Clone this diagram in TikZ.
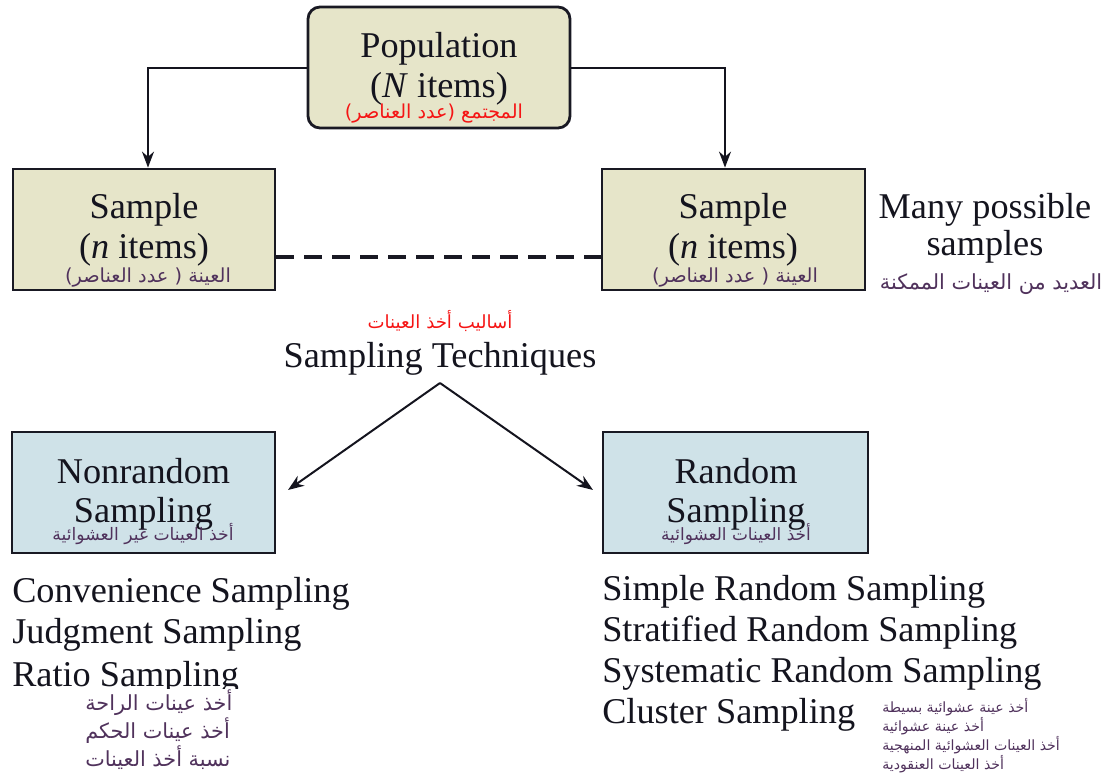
\documentclass[tikz,border=0pt]{standalone}
\usepackage{fontspec}
\setmainfont{Liberation Serif}
\newfontfamily\arabicfont[Script=Arabic]{DejaVu Sans}
\TeXXeTstate=1
\usetikzlibrary{arrows.meta,calc}

\definecolor{ink}{RGB}{20,20,30}
\definecolor{edge}{RGB}{25,25,35}
\definecolor{khaki}{RGB}{230,229,201}
\definecolor{paleblue}{RGB}{207,226,232}
\definecolor{arpurple}{RGB}{80,50,92}
\definecolor{arred}{RGB}{245,20,20}

\newcommand{\ar}[1]{\arabicfont\beginR #1\endR}

\begin{document}
\begin{tikzpicture}[x=0.75pt,y=-0.75pt,
  en/.style={font=\fontsize{27.2}{30}\selectfont, text=ink, inner sep=0pt, anchor=base},
  enl/.style={en, anchor=base west},
  arlab/.style={inner sep=0pt, anchor=base, text=arpurple},
  arsize/.style={font=\fontsize{#1}{#1}\selectfont},
  box/.style={draw=edge, line width=2.1pt, inner sep=0pt},
  khakibox/.style={box, fill=khaki},
  bluebox/.style={box, fill=paleblue},
  link/.style={draw=ink, line width=1.5pt, -{Stealth[length=12pt,width=9pt]}},
]
\useasboundingbox (0,0) rectangle (1110,782);

% --- population and samples ---
\node[khakibox, rounded corners=9pt, minimum width={262*0.75pt}, minimum height={121*0.75pt}] (pop) at (439,67.5) {};
\node[khakibox, minimum width={262*0.75pt}, minimum height={121*0.75pt}] (ls) at (144,229.5) {};
\node[khakibox, minimum width={263*0.75pt}, minimum height={121*0.75pt}] (rs) at (733.5,229.5) {};

\node[en] (popA) at (439,57) {Population};
\node[en] (popB) at (439,97) {(\textit{N} items)};
\node[arlab, text=arred, arsize=14.4] (popC) at (434,118) {\ar{المجتمع (عدد العناصر)}};

\node[en] (lsA) at (144,218) {Sample};
\node[en] (lsB) at (144,258) {(\textit{n} items)};
\node[arlab, arsize=14.5] (lsC) at (148,282) {\ar{العينة ( عدد العناصر)}};

\node[en] (rsA) at (733,218) {Sample};
\node[en] (rsB) at (733,258) {(\textit{n} items)};
\node[arlab, arsize=14.5] (rsC) at (735,282) {\ar{العينة ( عدد العناصر)}};

\node[en] (manyA) at (985,218) {Many possible};
\node[en] (manyB) at (985,255) {samples};
\node[arlab, arsize=15.6] (manyC) at (991,289) {\ar{العديد من العينات الممكنة}};

\draw[link] (pop.west) -| ($(ls.north)+(4,0)$);
\draw[link] (pop.east) -| ($(rs.north)+(-8.5,0)$);
\draw[edge, line width=3pt, dash pattern=on 13.5pt off 7.5pt]
  ($(ls.east)+(0,27.5)$) -- ($(rs.west)+(0,27.5)$);

% --- sampling techniques ---
\node[arlab, text=arred, arsize=13.6] (techA) at (440,328) {\ar{أساليب أخذ العينات}};
\node[en] (techB) at (440,367) {Sampling Techniques};

\coordinate (apex) at (440,383);
\coordinate (nrtip) at (288,490);
\coordinate (rtip) at (593,490);
\draw[link] (apex) -- (nrtip);
\draw[link] (apex) -- (rtip);

\node[bluebox, minimum width={263*0.75pt}, minimum height={121*0.75pt}] (nr) at (143.5,492.5) {};
\node[bluebox, minimum width={265*0.75pt}, minimum height={121*0.75pt}] (rd) at (735.5,492.5) {};

\node[en] (nrA) at (143.5,483) {Nonrandom};
\node[en] (nrB) at (143.5,522) {Sampling};
\node[arlab, arsize=12.9] (nrC) at (143,540) {\ar{أخذ العينات غير العشوائية}};

\node[en] (rdA) at (736,483) {Random};
\node[en] (rdB) at (736,522) {Sampling};
\node[arlab, arsize=12.7] (rdC) at (736,540) {\ar{أخذ العينات العشوائية}};

% --- nonrandom methods ---
\node[enl] (conv) at (12,602) {Convenience Sampling};
\node[enl] (judg) at (12,643) {Judgment Sampling};
\begin{scope}
  \clip (0,600) rectangle (400,688);
  \node[enl] (ratio) at (12,686) {Ratio Sampling};
\end{scope}
\node[arlab, anchor=base west, arsize=15.6] (convA) at (85,710) {\ar{أخذ عينات الراحة}};
\node[arlab, anchor=base west, arsize=15.6] (judgA) at (85,738) {\ar{أخذ عينات الحكم}};
\node[arlab, anchor=base west, arsize=15.6] (ratioA) at (85,766) {\ar{نسبة أخذ العينات}};

% --- random methods ---
\node[enl] (simp) at (602,600) {Simple Random Sampling};
\node[enl] (strat) at (602,641) {Stratified Random Sampling};
\node[enl] (syst) at (602,682) {Systematic Random Sampling};
\node[enl] (clus) at (602,723) {Cluster Sampling};
\node[arlab, anchor=base west, arsize=10.6] (simpA) at (882,712) {\ar{أخذ عينة عشوائية بسيطة}};
\node[arlab, anchor=base west, arsize=10.6] (stratA) at (882,731) {\ar{أخذ عينة عشوائية}};
\node[arlab, anchor=base west, arsize=10.6] (systA) at (882,750) {\ar{أخذ العينات العشوائية المنهجية}};
\node[arlab, anchor=base west, arsize=10.6] (clusA) at (882,769) {\ar{أخذ العينات العنقودية}};
\end{tikzpicture}
\end{document}
